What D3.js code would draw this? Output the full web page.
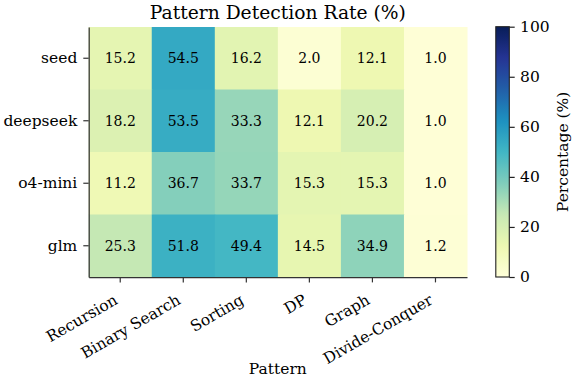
<!DOCTYPE html>
<html>
<head>
<script src="https://d3js.org/d3.v7.min.js"></script>
<style>
  body { margin: 0; background: #fff; }
  svg text { font-family: "DejaVu Serif", serif; fill: #000; }
</style>
</head>
<body>
<svg id="chart" width="574" height="380"></svg>
<script>
const models = ["seed", "deepseek", "o4-mini", "glm"];
const patterns = ["Recursion", "Binary Search", "Sorting", "DP", "Graph", "Divide-Conquer"];
const seedVals = [15.2, 54.5, 16.2, 2.0, 12.1, 1.0];
const deepseekVals = [18.2, 53.5, 33.3, 12.1, 20.2, 1.0];
const o4miniVals = [11.2, 36.7, 33.7, 15.3, 15.3, 1.0];
const glmVals = [25.3, 51.8, 49.4, 14.5, 34.9, 1.2];
const colorTicks = [0, 20, 40, 60, 80, 100];

const rows = [seedVals, deepseekVals, o4miniVals, glmVals];
const cells = [];
rows.forEach((r, i) => r.forEach((v, j) => cells.push({ model: models[i], pattern: patterns[j], value: v })));

const svg = d3.select("#chart");
const plot = { left: 88.7, right: 467, top: 27, bottom: 277 };
const tickLen = 5.4;
const labelSize = "15.5px";

// matplotlib YlGnBu (linear between the 9 colorbrewer stops)
const ylgnbu = ["#ffffd9", "#edf8b1", "#c7e9b4", "#7fcdbb", "#41b6c4", "#1d91c0", "#225ea8", "#253494", "#081d58"];
const color = d3.scaleLinear()
  .domain(d3.range(9).map(i => i * 100 / 8))
  .range(ylgnbu)
  .interpolate(d3.interpolateRgb)
  .clamp(true);

const x = d3.scaleBand().domain(patterns).range([plot.left, plot.right]);
const y = d3.scaleBand().domain(models).range([plot.top, plot.bottom]);

// cells
svg.append("g").selectAll("rect")
  .data(cells)
  .join("rect")
  .attr("x", d => x(d.pattern))
  .attr("y", d => y(d.model))
  .attr("width", x.bandwidth() + 0.5)
  .attr("height", y.bandwidth() + 0.5)
  .attr("fill", d => color(d.value));

svg.append("g").selectAll("text")
  .data(cells)
  .join("text")
  .attr("x", d => x(d.pattern) + x.bandwidth() / 2)
  .attr("y", d => y(d.model) + y.bandwidth() / 2)
  .attr("text-anchor", "middle")
  .attr("dominant-baseline", "central")
  .attr("font-size", "14px")
  .text(d => d.value.toFixed(1));

// x axis
const xAxis = svg.append("g")
  .attr("transform", "translate(0," + plot.bottom + ")")
  .call(d3.axisBottom(x).tickSize(tickLen).tickSizeOuter(0));
xAxis.select(".domain").attr("stroke", "#333").attr("stroke-width", 1.25);
xAxis.selectAll(".tick line").attr("stroke", "#333").attr("stroke-width", 1.2);
xAxis.selectAll(".tick text")
  .attr("font-size", labelSize)
  .attr("text-anchor", "end")
  .attr("x", 0).attr("y", 0).attr("dy", 0)
  .attr("transform", "translate(-1.5,26) rotate(-30)");

// y axis
const yAxis = svg.append("g")
  .attr("transform", "translate(" + plot.left + ",0)")
  .call(d3.axisLeft(y).tickSize(tickLen).tickPadding(6).tickSizeOuter(0));
yAxis.select(".domain").attr("stroke", "#333").attr("stroke-width", 1.25);
yAxis.selectAll(".tick line").attr("stroke", "#333").attr("stroke-width", 1.2);
yAxis.selectAll(".tick text").attr("font-size", labelSize);

svg.append("text")
  .attr("x", (plot.left + plot.right) / 2)
  .attr("y", 18.5)
  .attr("text-anchor", "middle")
  .attr("font-size", "18.7px")
  .text("Pattern Detection Rate (%)");

svg.append("text")
  .attr("x", (plot.left + plot.right) / 2)
  .attr("y", 374)
  .attr("text-anchor", "middle")
  .attr("font-size", labelSize)
  .text("Pattern");

// colorbar
const cb = { left: 495.8, width: 13.5, top: 26.7, bottom: 277 };
const cy = d3.scaleLinear().domain([0, 100]).range([cb.bottom, cb.top]);
const grad = svg.append("defs").append("linearGradient")
  .attr("id", "cbgrad")
  .attr("x1", 0).attr("y1", 1).attr("x2", 0).attr("y2", 0);
d3.range(0, 101, 2).forEach(v => {
  grad.append("stop").attr("offset", v / 100).attr("stop-color", color(v));
});
svg.append("rect")
  .attr("x", cb.left).attr("y", cb.top)
  .attr("width", cb.width).attr("height", cb.bottom - cb.top)
  .attr("fill", "url(#cbgrad)")
  .attr("stroke", "#222").attr("stroke-width", 1.1);

const cAxis = svg.append("g")
  .attr("transform", "translate(" + (cb.left + cb.width) + ",0)")
  .call(d3.axisRight(cy).tickValues(colorTicks).tickSize(tickLen).tickPadding(5.4));
cAxis.select(".domain").remove();
cAxis.selectAll(".tick line").attr("stroke", "#222").attr("stroke-width", 1.2);
cAxis.selectAll(".tick text").attr("font-size", labelSize);

svg.append("text")
  .attr("transform", "translate(567.5," + ((cb.top + cb.bottom) / 2) + ") rotate(-90)")
  .attr("text-anchor", "middle")
  .attr("font-size", labelSize)
  .text("Percentage (%)");
</script>
</body>
</html>
